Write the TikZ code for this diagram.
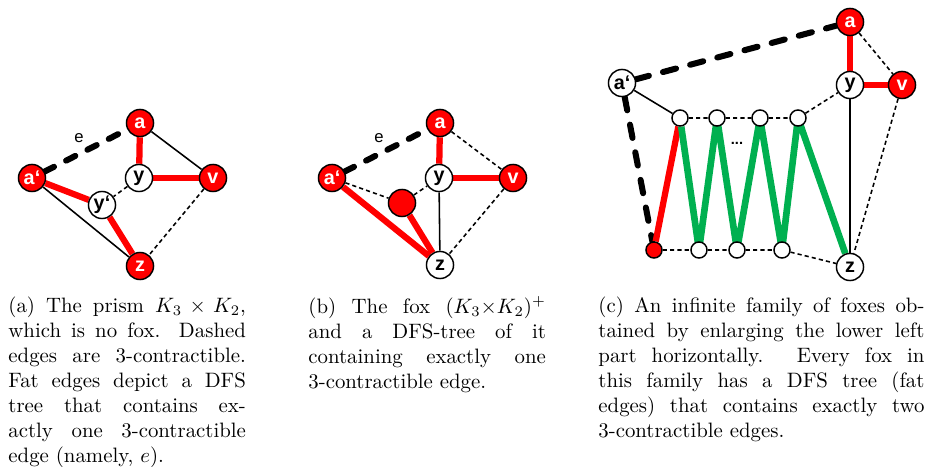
\documentclass[tikz,border=0pt]{standalone}
\usepackage{fontspec}
\newfontfamily\lab{Liberation Sans}
\usetikzlibrary{backgrounds}
\definecolor{fred}{RGB}{255,0,0}
\definecolor{fgreen}{RGB}{0,176,80}
\begin{document}
\begin{tikzpicture}[x=0.48pt,y=-0.48pt,
 vtx/.style={circle,draw=black,line width=0.7pt,minimum size=13pt,inner sep=0pt,font=\lab\bfseries\fontsize{9.5}{10}\selectfont},
 rv/.style={vtx,fill=fred,text=white},
 wv/.style={vtx,fill=white,text=black},
 sv/.style={circle,draw=black,line width=0.7pt,minimum size=7.7pt,inner sep=0pt,fill=white},
 srv/.style={sv,fill=fred},
 plain/.style={line width=0.75pt},
 dsh/.style={line width=0.75pt,dash pattern=on 2pt off 1.5pt},
 fatdash/.style={line width=2.9pt,line cap=round,dash pattern=on 5pt off 6.5pt},
 fatdashc/.style={line width=2.9pt,line cap=round,dash pattern=on 6.5pt off 7pt},
 fatred/.style={line width=3pt,draw=fred},
 fatgreen/.style={line width=3.2pt,draw=fgreen},
 elab/.style={font=\lab\fontsize{8}{9}\selectfont,inner sep=0pt},
 capt/.style={anchor=north west,inner sep=0pt,align=justify,font=\normalsize}]
\useasboundingbox (0,0) rectangle (930,467);

% (a)
\node[rv] (aa) at (140,123) {a};
\node[rv] (aap) at (32,178) {a‘};
\node[wv] (ay) at (139,178) {y};
\node[rv] (av) at (213,178) {v};
\node[wv] (ayp) at (102,205) {y‘};
\node[rv] (az) at (140,266) {z};
\node[elab] (ae) at (79,138) {e};
\begin{pgfonlayer}{background}
\draw[fatdash] (aap) -- (aa);
\draw[fatred] (aa) -- (ay);
\draw[fatred] (ay) -- (av);
\draw[plain] (aa) -- (av);
\draw[fatred] (aap) -- (ayp);
\draw[fatred] (ayp) -- (az);
\draw[plain] (aap) -- (az);
\draw[dsh] (ay) -- (ayp);
\draw[dsh] (av) -- (az);
\end{pgfonlayer}

% (b)
\node[rv] (ba) at (440,123) {a};
\node[rv] (bap) at (332,178) {a‘};
\node[wv] (by) at (439,178) {y};
\node[rv] (bv) at (513,178) {v};
\node[rv] (br) at (402,203) {};
\node[wv] (bz) at (440,265) {z};
\node[elab] (be) at (379,138) {e};
\begin{pgfonlayer}{background}
\draw[fatdash] (bap) -- (ba);
\draw[fatred] (ba) -- (by);
\draw[fatred] (by) -- (bv);
\draw[dsh] (ba) -- (bv);
\draw[dsh] (bap) -- (br);
\draw[dsh] (br) -- (by);
\draw[fatred] (bap) -- (bz);
\draw[fatred] (br) -- (bz);
\draw[plain] (by) -- (bz);
\draw[dsh] (bv) -- (bz);
\end{pgfonlayer}

% (c)
\node[rv] (ca) at (850,22) {a};
\node[wv] (cy) at (850,85) {y};
\node[rv] (cv) at (902,85) {v};
\node[wv] (cap) at (622,83) {a‘};
\node[wv] (cz) at (850,267) {z};
\node[sv] (t1) at (680,118) {};
\node[sv] (t2) at (717,118) {};
\node[sv] (t3) at (760,118) {};
\node[sv] (t4) at (798,118) {};
\node[srv] (rb) at (654,250) {};
\node[sv] (b1) at (699,250) {};
\node[sv] (b2) at (737,250) {};
\node[sv] (b3) at (782,250) {};
\node[elab,font=\lab\bfseries\fontsize{7}{8}\selectfont] (dots) at (737,143) {...};
\begin{pgfonlayer}{background}
\draw[fatdashc] (cap) -- (ca);
\draw[fatred] (ca) -- (cy);
\draw[fatred] (cy) -- (cv);
\draw[dsh] (ca) -- (cv);
\draw[plain] (cap) -- (t1);
\draw[fatdashc] (cap) -- (rb);
\draw[fatred] (t1) -- (rb);
\draw[fatgreen,line join=round] (t1) -- (b1.center) -- (t2.center) -- (b2.center) -- (t3.center) -- (b3.center) -- (t4.center) -- (cz);
\draw[dsh] (t1) -- (t2) -- (t3) -- (t4) -- (cy);
\draw[dsh] (rb) -- (b1) -- (b2) -- (b3) -- (cz);
\draw[plain] (cy) -- (cz);
\draw[dsh] (cv) -- (cz);
\end{pgfonlayer}

% captions
\node[capt,text width=114pt] (capa) at (8,296) {(a) The prism $K_3\times K_2$,\linebreak which is no fox. Dashed\linebreak edges are 3-contractible.\linebreak Fat edges depict a DFS\linebreak tree that contains ex-\linebreak actly one 3-contractible\linebreak edge (namely, $e$).};
\node[capt,text width=114pt] (capb) at (308,296) {(b) The fox $(K_3{\times}K_2)^+$\linebreak and a DFS-tree of it\linebreak containing exactly one\linebreak 3-contractible edge.};
\node[capt,text width=156.5pt] (capc) at (598,296) {(c) An infinite family of foxes ob-\linebreak tained by enlarging the lower left\linebreak part horizontally. Every fox in\linebreak this family has a DFS tree (fat\linebreak edges) that contains exactly two\linebreak 3-contractible edges.};
\end{tikzpicture}
\end{document}
